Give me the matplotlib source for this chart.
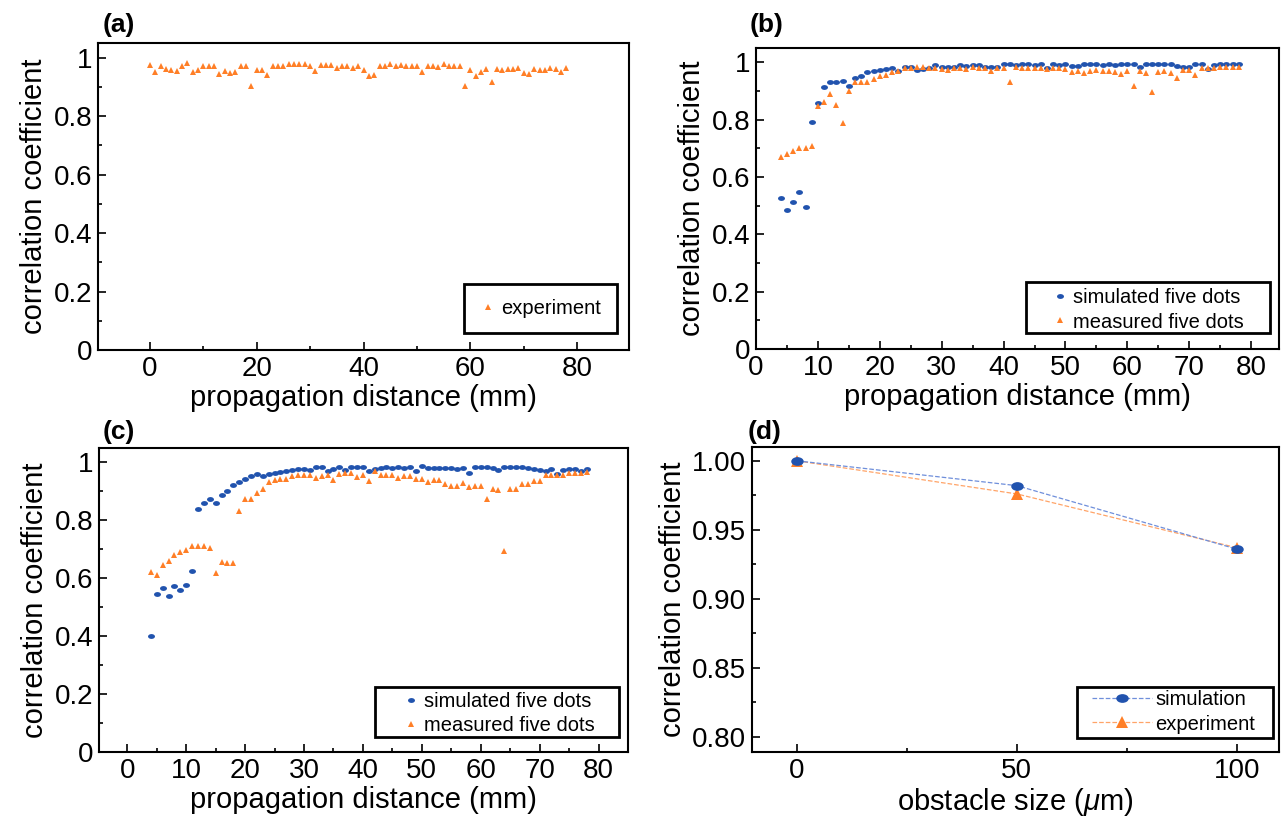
import numpy as np
import matplotlib
matplotlib.use("Agg")
import matplotlib.pyplot as plt
from matplotlib.path import Path
from matplotlib.patches import Rectangle
from matplotlib.ticker import MultipleLocator, FormatStrFormatter, FuncFormatter

plt.rcParams["font.family"] = ["Liberation Sans", "DejaVu Sans"]
plt.rcParams["mathtext.fontset"] = "custom"
plt.rcParams["mathtext.rm"] = "Liberation Sans"
plt.rcParams["mathtext.it"] = "Liberation Sans:italic"

ORANGE = "#FF7F27"
BLUE = "#2153AE"

# (a) experiment, distance 0..78 mm
dist_a = list(range(0, 79))
exp_a = [0.975, 0.950, 0.970, 0.960, 0.958, 0.955, 0.970, 0.980, 0.952, 0.957,
         0.970, 0.973, 0.971, 0.943, 0.955, 0.949, 0.952, 0.973, 0.971, 0.903,
         0.959, 0.959, 0.940, 0.973, 0.973, 0.973, 0.977, 0.977, 0.977, 0.978,
         0.973, 0.955, 0.975, 0.975, 0.975, 0.966, 0.973, 0.973, 0.963, 0.973,
         0.959, 0.938, 0.942, 0.970, 0.973, 0.977, 0.972, 0.975, 0.973, 0.973,
         0.973, 0.952, 0.972, 0.972, 0.967, 0.978, 0.972, 0.970, 0.973, 0.902,
         0.958, 0.936, 0.952, 0.962, 0.917, 0.960, 0.957, 0.961, 0.961, 0.965,
         0.949, 0.944, 0.960, 0.957, 0.956, 0.963, 0.960, 0.950, 0.963]

# (b) and (c), distance 4..78 mm
dist_bc = list(range(4, 79))
sim_b = [0.527, 0.486, 0.513, 0.547, 0.497, 0.792, 0.858, 0.914, 0.930, 0.930,
         0.934, 0.916, 0.945, 0.954, 0.967, 0.969, 0.973, 0.976, 0.980, 0.969,
         0.983, 0.983, 0.972, 0.976, 0.979, 0.989, 0.984, 0.985, 0.985, 0.991,
         0.988, 0.992, 0.992, 0.983, 0.984, 0.985, 0.994, 0.994, 0.989, 0.995,
         0.995, 0.989, 0.995, 0.979, 0.995, 0.990, 0.995, 0.988, 0.988, 0.995,
         0.995, 0.995, 0.989, 0.995, 0.989, 0.995, 0.995, 0.995, 0.983, 0.995,
         0.995, 0.995, 0.995, 0.994, 0.987, 0.985, 0.985, 0.994, 0.993, 0.978,
         0.989, 0.993, 0.993, 0.993, 0.993]
meas_b = [0.670, 0.681, 0.690, 0.702, 0.701, 0.707, 0.846, 0.861, 0.889, 0.851,
          0.790, 0.900, 0.930, 0.932, 0.931, 0.943, 0.952, 0.955, 0.967, 0.970,
          0.979, 0.979, 0.982, 0.982, 0.979, 0.981, 0.977, 0.974, 0.980, 0.979,
          0.976, 0.984, 0.981, 0.981, 0.970, 0.980, 0.979, 0.930, 0.985, 0.981,
          0.981, 0.979, 0.981, 0.976, 0.979, 0.979, 0.975, 0.968, 0.970, 0.963,
          0.971, 0.972, 0.970, 0.970, 0.968, 0.960, 0.969, 0.919, 0.969, 0.962,
          0.896, 0.966, 0.970, 0.964, 0.944, 0.974, 0.974, 0.956, 0.981, 0.981,
          0.981, 0.983, 0.983, 0.983, 0.983]
sim_c = [0.402, 0.544, 0.565, 0.538, 0.573, 0.560, 0.578, 0.625, 0.839, 0.859,
         0.873, 0.860, 0.889, 0.902, 0.922, 0.931, 0.943, 0.954, 0.961, 0.954,
         0.960, 0.962, 0.968, 0.971, 0.975, 0.977, 0.978, 0.975, 0.984, 0.985,
         0.971, 0.977, 0.985, 0.973, 0.985, 0.985, 0.985, 0.972, 0.979, 0.981,
         0.985, 0.981, 0.985, 0.981, 0.986, 0.971, 0.987, 0.980, 0.981, 0.981,
         0.981, 0.981, 0.977, 0.981, 0.962, 0.986, 0.986, 0.985, 0.981, 0.973,
         0.983, 0.985, 0.985, 0.984, 0.981, 0.979, 0.975, 0.972, 0.979, 0.960,
         0.973, 0.979, 0.979, 0.972, 0.978]
meas_c = [0.622, 0.613, 0.646, 0.659, 0.679, 0.690, 0.698, 0.713, 0.711, 0.711,
          0.703, 0.619, 0.656, 0.652, 0.652, 0.833, 0.874, 0.874, 0.896, 0.910,
          0.932, 0.938, 0.942, 0.944, 0.953, 0.956, 0.958, 0.956, 0.948, 0.953,
          0.958, 0.940, 0.961, 0.963, 0.965, 0.949, 0.958, 0.936, 0.971, 0.958,
          0.958, 0.958, 0.948, 0.953, 0.953, 0.943, 0.943, 0.932, 0.940, 0.941,
          0.924, 0.919, 0.919, 0.928, 0.914, 0.919, 0.920, 0.873, 0.910, 0.904,
          0.693, 0.910, 0.910, 0.926, 0.925, 0.936, 0.935, 0.956, 0.958, 0.958,
          0.957, 0.963, 0.962, 0.963, 0.968]

# (d) obstacle size
obstacle = [0, 50, 100]
sim_d = [1.000, 0.982, 0.936]
exp_d = [1.000, 0.976, 0.937]

W, H = 1281, 821
_c = Path.unit_circle()
DOT = Path(_c.vertices * [1.0, 0.7], _c.codes)


def px_axes(fig, left, top, right, bottom):
    ax = fig.add_axes([left / W, 1 - bottom / H, (right - left) / W, (bottom - top) / H])
    ax.px_box = (left, top, right, bottom)
    return ax


def to_axes(ax, x, y):
    left, top, right, bottom = ax.px_box
    return (x - left) / (right - left), (bottom - y) / (bottom - top)


def style(ax):
    for s in ax.spines.values():
        s.set_linewidth(1.5)
    ax.tick_params(which="both", direction="in", top=False, right=False,
                   labelsize=20, width=1.2, pad=4)
    ax.tick_params(which="major", length=5.5)
    ax.tick_params(which="minor", length=3)
    ax.set_ylabel("correlation coefficient", fontsize=21, labelpad=4)


def boxed_legend(ax, frame, handle_x, y_mid, handlelength, handletextpad, handles=None):
    """legend without its own frame, placed inside a frame drawn from pixel bounds"""
    x0, y0 = to_axes(ax, frame[0], frame[3])
    x1, y1 = to_axes(ax, frame[2], frame[1])
    ax.add_patch(Rectangle((x0, y0), x1 - x0, y1 - y0, transform=ax.transAxes,
                           facecolor="white", edgecolor="black", lw=2, zorder=4))
    hx, hy = to_axes(ax, handle_x, y_mid)
    ax.legend(handles=handles, loc="center left", bbox_to_anchor=(hx, hy),
              borderaxespad=0, borderpad=0, frameon=False, fontsize=14.5,
              handlelength=handlelength, handletextpad=handletextpad,
              labelspacing=0.25).set_zorder(5)


def plot_distance(ax, xlim):
    ax.set_xlim(*xlim)
    ax.set_ylim(0, 1.05)
    ax.yaxis.set_major_locator(MultipleLocator(0.2))
    ax.yaxis.set_minor_locator(MultipleLocator(0.1))
    ax.yaxis.set_major_formatter(FuncFormatter(lambda v, p: "%g" % round(v, 2)))
    ax.set_xlabel("propagation distance (mm)", fontsize=21, labelpad=2)
    style(ax)


def main():
    fig = plt.figure(figsize=(W / 100, H / 100), dpi=100)

    ax = px_axes(fig, 98, 43, 629, 350)
    ax.plot(dist_a, exp_a, ls="none", marker="^", ms=5, mew=0, color=ORANGE,
            label="experiment")
    plot_distance(ax, (-9.75, 89.75))
    ax.xaxis.set_major_locator(MultipleLocator(20))
    ax.xaxis.set_minor_locator(MultipleLocator(10))
    boxed_legend(ax, (464, 284, 617, 333), 480, 309, 0.8, 0.25)

    ax = px_axes(fig, 756, 48, 1279, 349)
    ax.plot(dist_bc, sim_b, ls="none", marker=DOT, ms=5, mew=0, color=BLUE,
            label="simulated five dots")
    ax.plot(dist_bc, meas_b, ls="none", marker="^", ms=5, mew=0, color=ORANGE,
            label="measured five dots")
    plot_distance(ax, (0, 84.5))
    ax.xaxis.set_major_locator(MultipleLocator(10))
    ax.xaxis.set_minor_locator(MultipleLocator(5))
    boxed_legend(ax, (1026, 282, 1270, 333), 1052, 310, 0.8, 0.25)

    ax = px_axes(fig, 99, 448, 628, 752)
    ax.plot(dist_bc, sim_c, ls="none", marker=DOT, ms=5, mew=0, color=BLUE,
            label="simulated five dots")
    ax.plot(dist_bc, meas_c, ls="none", marker="^", ms=5, mew=0, color=ORANGE,
            label="measured five dots")
    plot_distance(ax, (-4.8, 85))
    ax.xaxis.set_major_locator(MultipleLocator(10))
    ax.xaxis.set_minor_locator(MultipleLocator(5))
    boxed_legend(ax, (375, 687, 619, 737), 403, 713.5, 0.8, 0.25)

    ax = px_axes(fig, 752, 447, 1279, 752)
    e, = ax.plot(obstacle, exp_d, ls="--", lw=0.9, color="#FFA468", marker="^",
                 ms=8, mfc=ORANGE, mec=ORANGE, mew=0, label="experiment")
    s, = ax.plot(obstacle, sim_d, ls="--", lw=0.9, color="#6F8FDB", marker=DOT,
                 ms=9, mfc=BLUE, mec=BLUE, mew=0, label="simulation")
    ax.set_xlim(-10.2, 109.6)
    ax.set_ylim(0.789, 1.010)
    ax.xaxis.set_major_locator(MultipleLocator(50))
    ax.xaxis.set_minor_locator(MultipleLocator(25))
    ax.yaxis.set_major_locator(MultipleLocator(0.05))
    ax.yaxis.set_minor_locator(MultipleLocator(0.025))
    ax.yaxis.set_major_formatter(FormatStrFormatter("%.2f"))
    ax.set_xlabel("obstacle size ($\\mu$m)", fontsize=21, labelpad=2)
    style(ax)
    boxed_legend(ax, (1077, 687, 1273, 738), 1092, 712, 3.0, 0.15, handles=[s, e])

    for lbl, x, y in [("(a)", 103, 25), ("(b)", 750, 25), ("(c)", 103, 432), ("(d)", 748, 432)]:
        fig.text(x / W, 1 - y / H, lbl, fontsize=19, fontweight="bold", va="center", ha="left")

    fig.savefig("out.png", dpi=100)


if __name__ == "__main__":
    main()
